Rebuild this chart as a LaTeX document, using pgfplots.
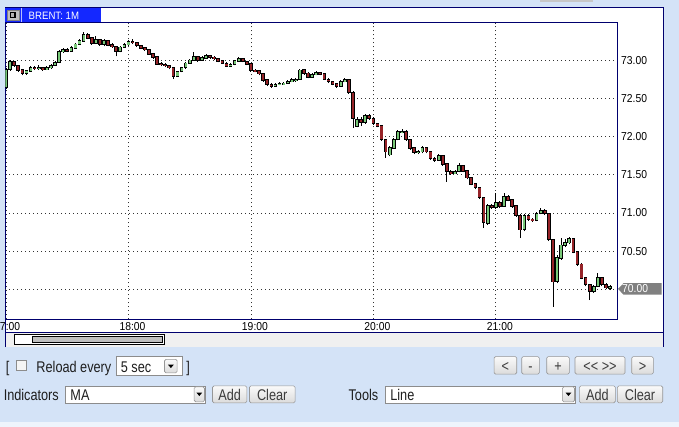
\documentclass[border=0pt]{standalone}
\usepackage{pgfplots}
\pgfplotsset{compat=1.18}
\usepackage{pgfplotstable}
\usepackage{fontspec}
\setmainfont{Liberation Sans}
\newfontfamily\uif{Liberation Sans}[FakeStretch=0.82]
\newfontfamily\tkf{Liberation Sans}[FakeStretch=0.9]
\definecolor{bgblue}{RGB}{212,227,247}
\definecolor{ink}{RGB}{0,0,110}
\definecolor{tabblue}{RGB}{20,40,255}
\definecolor{upg}{RGB}{120,200,120}
\definecolor{dnr}{RGB}{150,35,40}
\definecolor{btnb}{RGB}{150,150,150}
\definecolor{uitext}{RGB}{30,30,30}
\definecolor{btntext}{RGB}{60,60,60}

\pgfplotstableread{
t o h l c
0 72.64 72.90 72.62 72.88
2 72.88 73.00 72.86 72.98
4 72.98 72.99 72.91 72.93
6 72.93 72.94 72.85 72.87
8 72.87 72.88 72.80 72.83
10 72.83 72.87 72.81 72.86
12 72.86 72.92 72.85 72.90
14 72.90 72.92 72.87 72.89
16 72.89 72.93 72.87 72.90
18 72.90 72.91 72.86 72.88
20 72.88 72.92 72.87 72.90
22 72.90 72.95 72.89 72.93
24 72.93 72.99 72.92 72.97
26 72.97 73.13 72.96 73.11
28 73.11 73.16 73.09 73.14
30 73.14 73.16 73.10 73.12
32 73.12 73.18 73.11 73.16
34 73.16 73.23 73.15 73.21
36 73.21 73.28 73.20 73.25
38 73.25 73.37 73.24 73.34
40 73.34 73.36 73.27 73.29
42 73.29 73.30 73.20 73.22
44 73.22 73.31 73.21 73.27
46 73.27 73.28 73.19 73.21
48 73.21 73.28 73.18 73.25
50 73.25 73.26 73.18 73.20
52 73.20 73.22 73.16 73.18
54 73.18 73.19 73.05 73.11
56 73.11 73.19 73.10 73.17
58 73.17 73.22 73.16 73.20
60 73.20 73.26 73.19 73.24
62 73.24 73.27 73.21 73.23
64 73.23 73.24 73.17 73.19
66 73.19 73.20 73.15 73.16
68 73.16 73.17 73.12 73.14
70 73.14 73.15 73.07 73.08
72 73.08 73.09 73.02 73.04
74 73.04 73.05 72.94 72.95
76 72.95 72.97 72.92 72.94
78 72.94 72.96 72.91 72.93
80 72.93 72.94 72.88 72.90
82 72.90 72.91 72.75 72.79
84 72.79 72.86 72.78 72.85
86 72.85 72.91 72.84 72.90
88 72.90 72.97 72.89 72.96
90 72.96 73.02 72.95 73.00
92 73.00 73.10 72.99 73.04
94 73.04 73.05 72.98 73.00
96 73.00 73.05 72.99 73.03
98 73.03 73.08 73.02 73.06
100 73.06 73.07 73.02 73.04
102 73.04 73.05 73.00 73.02
104 73.02 73.03 72.97 72.99
106 72.99 73.00 72.95 72.96
108 72.96 72.97 72.91 72.92
110 72.92 72.96 72.91 72.94
112 72.94 73.00 72.93 72.99
114 72.99 73.04 72.98 73.02
116 73.02 73.03 72.97 72.98
118 72.98 72.99 72.93 72.95
120 72.95 72.96 72.85 72.87
122 72.87 72.89 72.84 72.86
124 72.86 72.87 72.80 72.82
126 72.82 72.83 72.72 72.74
128 72.74 72.75 72.66 72.68
130 72.68 72.70 72.64 72.66
132 72.66 72.70 72.65 72.68
134 72.68 72.71 72.67 72.69
136 72.69 72.72 72.68 72.70
138 72.70 72.74 72.69 72.72
140 72.72 72.76 72.71 72.74
142 72.74 72.77 72.72 72.75
144 72.75 72.89 72.74 72.87
146 72.87 72.88 72.81 72.83
148 72.83 72.84 72.76 72.78
150 72.78 72.83 72.77 72.81
152 72.81 72.86 72.80 72.84
154 72.84 72.85 72.80 72.82
156 72.82 72.83 72.74 72.75
158 72.75 72.76 72.70 72.72
160 72.72 72.73 72.67 72.69
162 72.69 72.70 72.64 72.66
164 72.66 72.74 72.65 72.72
166 72.72 72.76 72.71 72.74
168 72.74 72.75 72.56 72.58
170 72.58 72.59 72.11 72.24
172 72.14 72.26 72.12 72.22
174 72.22 72.25 72.14 72.19
176 72.19 72.29 72.17 72.27
178 72.27 72.29 72.22 72.24
180 72.24 72.25 72.15 72.17
182 72.17 72.18 72.12 72.14
184 72.14 72.15 71.94 71.96
186 71.96 71.97 71.72 71.80
188 71.76 71.87 71.74 71.85
190 71.85 71.98 71.84 71.96
192 71.96 72.08 71.95 72.06
194 72.06 72.10 72.04 72.07
196 72.07 72.08 71.94 71.96
198 71.96 71.97 71.83 71.85
200 71.85 71.86 71.77 71.79
202 71.79 71.82 71.77 71.80
204 71.80 71.87 71.78 71.85
206 71.85 71.86 71.78 71.80
208 71.80 71.81 71.69 71.71
210 71.71 71.73 71.67 71.69
212 71.69 71.77 71.68 71.75
214 71.75 71.76 71.62 71.64
216 71.64 71.65 71.41 71.54
218 71.54 71.56 71.50 71.52
220 71.52 71.56 71.51 71.54
222 71.54 71.66 71.53 71.62
224 71.62 71.63 71.53 71.55
226 71.55 71.56 71.44 71.46
228 71.46 71.47 71.36 71.38
230 71.38 71.39 71.31 71.33
232 71.33 71.34 71.18 71.20
234 71.20 71.21 70.80 70.88
236 70.86 71.12 70.84 71.10
238 71.10 71.12 71.05 71.07
240 71.07 71.26 71.05 71.13
242 71.13 71.15 71.07 71.09
244 71.09 71.26 71.08 71.21
246 71.21 71.23 71.15 71.17
248 71.17 71.18 71.07 71.09
250 71.09 71.10 70.95 70.97
252 70.97 70.98 70.67 70.78
254 70.78 70.98 70.76 70.96
256 70.96 70.98 70.90 70.92
258 70.92 70.94 70.88 70.90
260 70.90 71.01 70.89 70.99
262 70.99 71.07 70.98 71.03
264 71.03 71.05 70.97 70.99
266 70.99 71.00 70.63 70.65
268 70.65 70.66 69.77 70.10
270 70.10 70.45 70.08 70.41
272 70.41 70.67 70.39 70.58
274 70.58 70.66 70.55 70.61
276 70.61 70.68 70.59 70.66
278 70.66 70.67 70.47 70.49
280 70.49 70.50 70.31 70.33
282 70.33 70.34 70.13 70.15
284 70.15 70.16 70.04 70.06
286 70.06 70.07 69.86 69.97
288 69.97 70.06 69.95 70.04
290 70.04 70.21 70.03 70.15
292 70.15 70.16 70.04 70.06
294 70.06 70.08 70.00 70.02
296 70.02 70.06 69.99 70.04
}\brent

\tikzset{
  btn/.style={draw=btnb, rounded corners=1.5pt, top color=white!96!gray, bottom color=black!14, line width=0.6pt},
  fld/.style={draw=black!45, fill=white, line width=0.6pt},
  uitxt/.style={inner sep=0pt, text=uitext, font=\uif\fontsize{15.5}{18}\selectfont},
  btntxt/.style={inner sep=0pt, text=btntext, font=\uif\fontsize{15.5}{18}\selectfont},
}
\pgfplotsset{
  body/.style 2 args={draw=none, mark=none,
    error bars/.cd, y dir=both, y explicit, error mark=none,
    error bar style={draw=#1, line width=#2, line cap=butt}},
}

\begin{document}
\begin{tikzpicture}[x=1pt,y=1pt]
\begin{scope}[shift={(-5,-107.7)}]
\useasboundingbox (0,0) rectangle (679,427);
\fill[bgblue] (0,0) rectangle (679,427);
\fill[white!60!bgblue] (0,0) rectangle (679,5.3);
\fill[black!22] (540,424.5) rectangle (593,427);
\fill[white] (5,94.3) rectangle (663,419);
\fill[black!6] (5,79.7) rectangle (663,94.3);
\draw[ink, line width=1pt] (5,79.7) -- (5,419) -- (663,419) -- (663,79.7);
\draw[ink, line width=1pt] (5,94.3) -- (663,94.3);
\fill[tabblue] (5,404.3) rectangle (101,419);
\draw[black!50, fill=black!25, line width=0.6pt] (6.8,406.8) rectangle (19.5,417);
\fill[black] (9.5,408.5) rectangle (15.5,415.3);
\fill[black!30] (11,410) rectangle (14,413.8);
\draw[white!70!tabblue, line width=0.8pt] (21.5,405) -- (21.5,418.5);
\node[anchor=base west, inner sep=0pt, text=white, font=\tkf\fontsize{10.7}{12}\selectfont] at (28.3,407.7) {BRENT: 1M};
\end{scope}

\begin{axis}[
  scale only axis,
  width=612pt, height=296.6pt,
  xmin=-0.4, xmax=299.4, ymin=69.61, ymax=73.49,
  axis line style={draw=ink, line width=1pt},
  xtick={0,60,120,180,240},
  xticklabels={7:00,18:00,19:00,20:00,21:00},
  ytick={70.5,71,71.5,72,72.5,73},
  extra y ticks={70}, extra y tick labels={},
  major tick length=0pt,
  grid=major,
  major grid style={black!80, line width=0.7pt, dash pattern=on 0.8pt off 3.2pt},
  yticklabel pos=right,
  yticklabel style={anchor=west, inner sep=0pt, xshift=4pt, text=black, font=\tkf\fontsize{11.5}{12}\selectfont},
  xticklabel style={anchor=north, inner sep=0pt, xshift=4pt, yshift=-3pt, text=black, font=\tkf\fontsize{11.5}{12}\selectfont},
  /pgf/number format/.cd, fixed, fixed zerofill, precision=2, assume math mode=true,
]
% wicks
\addplot[draw=none, mark=none,
  error bars/.cd, y dir=plus, y explicit, error mark=none,
  error bar style={draw=black, line width=0.9pt, line cap=butt}]
  table[x=t, y=l, y error plus expr={\thisrow{h}-\thisrow{l}}] {\brent};
% body outlines, rising and falling
\addplot[body={black}{3.7pt}]
  table[x=t, y expr={(\thisrow{o}+\thisrow{c})/2}, y error expr={max((\thisrow{c}-\thisrow{o})/2+0.008,0)}] {\brent};
\addplot[body={black}{3.7pt}]
  table[x=t, y expr={(\thisrow{o}+\thisrow{c})/2}, y error expr={max((\thisrow{o}-\thisrow{c})/2+0.008,0)}] {\brent};
% body fills
\addplot[body={upg}{2.1pt}]
  table[x=t, y expr={(\thisrow{o}+\thisrow{c})/2}, y error expr={max((\thisrow{c}-\thisrow{o})/2-0.004,0)}] {\brent};
\addplot[body={dnr}{2.1pt}]
  table[x=t, y expr={(\thisrow{o}+\thisrow{c})/2}, y error expr={max((\thisrow{o}-\thisrow{c})/2-0.004,0)}] {\brent};
\end{axis}

\begin{scope}[shift={(-5,-107.7)}]
% last price box
\fill[black!50] (618,138) -- (623.5,143.7) -- (661.7,143.7) -- (661.7,132.2) -- (623.5,132.2) -- cycle;
\node[anchor=base west, inner sep=0pt, text=white, font=\tkf\fontsize{11.5}{12}\selectfont] at (622,133.9) {70.00};
% scrollbar
\draw[black, fill=white, line width=0.8pt] (14,82.3) rectangle (164.7,92);
\draw[black, fill=black!25, line width=0.8pt] (32,84.2) rectangle (162.5,90);
% row 1 controls
\node[uitxt, anchor=base west] at (5.5,54.5) {[};
\draw[black!45, fill=black!4, line width=0.6pt] (16,57) rectangle (26,67);
\node[uitxt, anchor=base west] at (36,54.5) {Reload every};
\draw[fld] (116,52) rectangle (181.7,70.3);
\node[uitxt, anchor=base west] at (120.5,54.5) {5 sec};
\draw[btn] (164.3,54) rectangle (177,67.5);
\fill[black] (167.8,62.2) -- (173.6,62.2) -- (170.7,58.8) -- cycle;
\node[uitxt, anchor=base west] at (186,54.5) {]};
\draw[btn] (494,52.7) rectangle (516.7,70.3);
\node[btntxt, anchor=base] at (505.3,55.5) {<};
\draw[btn] (521.7,52.7) rectangle (539.3,70.3);
\node[btntxt, anchor=base] at (530.5,55.5) {-};
\draw[btn] (546.7,52.7) rectangle (569.3,70.3);
\node[btntxt, anchor=base] at (558,55.5) {+};
\draw[btn] (575,52.7) rectangle (625,70.3);
\node[btntxt, anchor=base] at (600,55.5) {<{}< >{}>};
\draw[btn] (631.7,52.7) rectangle (653.3,70.3);
\node[btntxt, anchor=base] at (642.5,55.5) {>};
% row 2 controls
\node[uitxt, anchor=base west] at (3.3,26.3) {Indicators};
\draw[fld] (65,24) rectangle (205,41);
\node[uitxt, anchor=base west] at (70,26.3) {MA};
\draw[btn] (194,25) rectangle (204.3,40);
\fill[black] (196.3,34.2) -- (202,34.2) -- (199.15,30.8) -- cycle;
\draw[btn] (212.3,24) rectangle (246.7,41);
\node[btntxt, anchor=base] at (229.5,26.3) {Add};
\draw[btn] (249.3,24) rectangle (295,41);
\node[btntxt, anchor=base] at (272.1,26.3) {Clear};
\node[uitxt, anchor=base west] at (348.3,26.3) {Tools};
\draw[fld] (385,24) rectangle (575.5,41);
\node[uitxt, anchor=base west] at (390,26.3) {Line};
\draw[btn] (562.3,25) rectangle (574.5,40);
\fill[black] (565.5,34.2) -- (571.3,34.2) -- (568.4,30.8) -- cycle;
\draw[btn] (579.3,24) rectangle (615.3,41);
\node[btntxt, anchor=base] at (597.3,26.3) {Add};
\draw[btn] (617.3,24) rectangle (662.7,41);
\node[btntxt, anchor=base] at (640,26.3) {Clear};
\end{scope}
\end{tikzpicture}
\end{document}
